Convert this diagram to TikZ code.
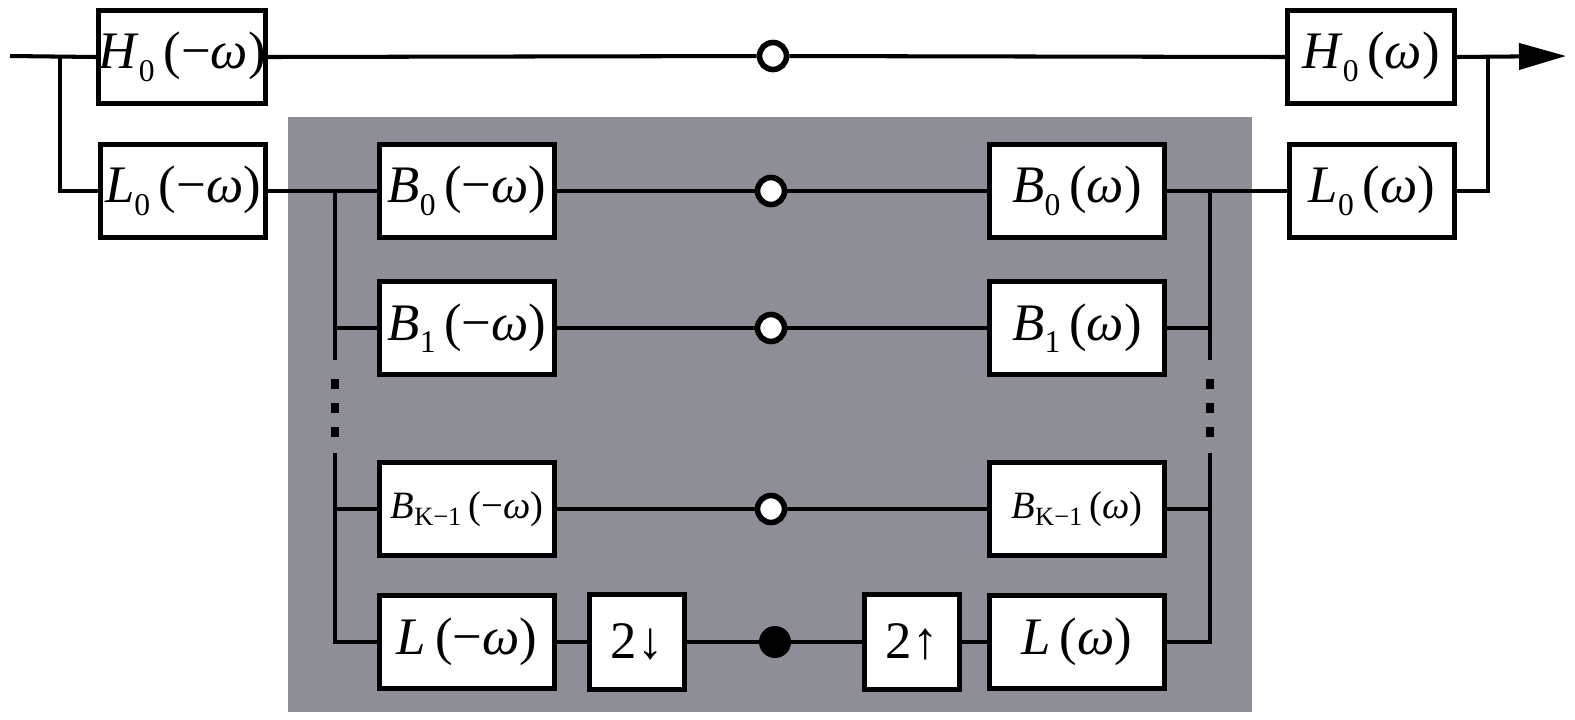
\RequirePackage{fix-cm}
\documentclass[tikz,border=0pt]{standalone}
\usepackage{fontspec}
\setmainfont{Liberation Serif}
\usetikzlibrary{arrows.meta,calc,positioning}
\definecolor{panelgray}{RGB}{142,143,150}
% filter labels: letter, subscript, sign
\newcommand{\filt}[3]{\textit{#1}\raisebox{-7pt}{\fontsize{18}{18}\selectfont #2}\kern5pt(#3\textit{ω})}
\newcommand{\filtsm}[3]{{\fontsize{22}{24}\selectfont\textit{#1}\raisebox{-4pt}{\fontsize{15}{15}\selectfont #2}\kern4pt(#3\textit{ω})}}
\tikzset{
  wire/.style={line width=2.3pt},
  box/.style={draw,line width=3pt,fill=white,inner sep=0pt,
    minimum height=18.6mm,font=\fontsize{30}{32}\selectfont},
  tap/.style={circle,draw,line width=3.2pt,fill=white,inner sep=0pt,minimum size=5.4mm},
  dot/.style={circle,fill=black,inner sep=0pt,minimum size=6.4mm}
}
\begin{document}
\begin{tikzpicture}[x=0.2mm,y=-0.2mm]
	\useasboundingbox (0,0) rectangle (1575,719);
	% shaded inner part
	\fill[panelgray] (288,117) rectangle (1252,712);
	% upper branch
	\coordinate (in) at (10,56);
	\coordinate (split) at (60,56);
	\coordinate (merge) at (1488,56);
	\coordinate (out) at (1566,56);
	\node[box,minimum width=33.4mm] (h0a) at (182,57) {\filt{H}{0}{−}};
	\node[tap] (c0) at (773,56) {};
	\node[box,minimum width=33.4mm] (h0b) at (1371,57) {\filt{H}{0}{}};
	\node[box,minimum width=33mm] (l0a) at (183,191) {\filt{L}{0}{−}};
	\node[box,minimum width=33mm] (l0b) at (1372,191) {\filt{L}{0}{}};
	% inner bank
	\node[box,minimum width=35mm] (b0a) at (467,191) {\filt{B}{0}{−}};
	\node[box,minimum width=35mm] (b1a) at (467,328) {\filt{B}{1}{−}};
	\node[box,minimum width=35mm] (bka) at (467,509) {\filtsm{B}{K−1}{−}};
	\node[box,minimum width=35mm] (la) at (467,642) {\textit{L}\kern5pt(−\textit{ω})};
	\node[box,minimum width=35mm] (b0b) at (1077,191) {\filt{B}{0}{}};
	\node[box,minimum width=35mm] (b1b) at (1077,328) {\filt{B}{1}{}};
	\node[box,minimum width=35mm] (bkb) at (1077,509) {\filtsm{B}{K−1}{}};
	\node[box,minimum width=35mm] (lb) at (1077,642) {\textit{L}\kern5pt(\textit{ω})};
	\node[tap] (c1) at (771,191) {};
	\node[tap] (c2) at (771,328) {};
	\node[tap] (c3) at (771,509) {};
	\node[box,minimum width=19mm,minimum height=19mm] (dn) at (637,642) {2↓};
	\node[dot] (c4) at (775,642) {};
	\node[box,minimum width=19mm,minimum height=19mm] (up) at (912,642) {2↑};
	% wires
	\draw[wire] (in) -- (h0a.west);
	\draw[wire] (split) |- (l0a.west);
	\draw[wire] (h0a.east) -- (c0) -- (h0b.west);
	\draw[wire,-{Triangle[length=9.4mm,width=5.2mm]}] (h0b.east) -- (out);
	\draw[wire] (l0b.east) -| (merge);
	\draw[wire] (l0a.east) -- (b0a.west);
	\draw[wire] (b0b.east) -- (l0b.west);
	\foreach \r/\c in {0/c1,1/c2,k/c3} {
		\draw[wire] (b\r a.east) -- (\c) -- (b\r b.west);
	}
	\draw[wire] (la.east) -- (dn.west);
	\draw[wire] (dn.east) -- (c4) -- (up.west);
	\draw[wire] (up.east) -- (lb.west);
	% left bus
	\coordinate (lt) at (335,191);
	\coordinate (lm) at (335,360);
	\coordinate (ln) at (335,453);
	\draw[wire] (lt) -- (lm);
	\draw[wire] (ln) |- (la.west);
	\draw[wire] (b1a.west) -- (b1a.west -| lt);
	\draw[wire] (bka.west) -- (bka.west -| lt);
	% right bus
	\coordinate (rt) at (1210,191);
	\coordinate (rm) at (1210,360);
	\coordinate (rn) at (1210,453);
	\draw[wire] (rt) -- (rm);
	\draw[wire] (rn) |- (lb.east);
	\draw[wire] (b1b.east) -- (b1b.east -| rt);
	\draw[wire] (bkb.east) -- (bkb.east -| rt);
	% dots
	\foreach \y in {384,408,432} {
		\fill (331,\y-5) rectangle +(8,10);
		\fill (1206,\y-5) rectangle +(8,10);
	}
\end{tikzpicture}
\end{document}
